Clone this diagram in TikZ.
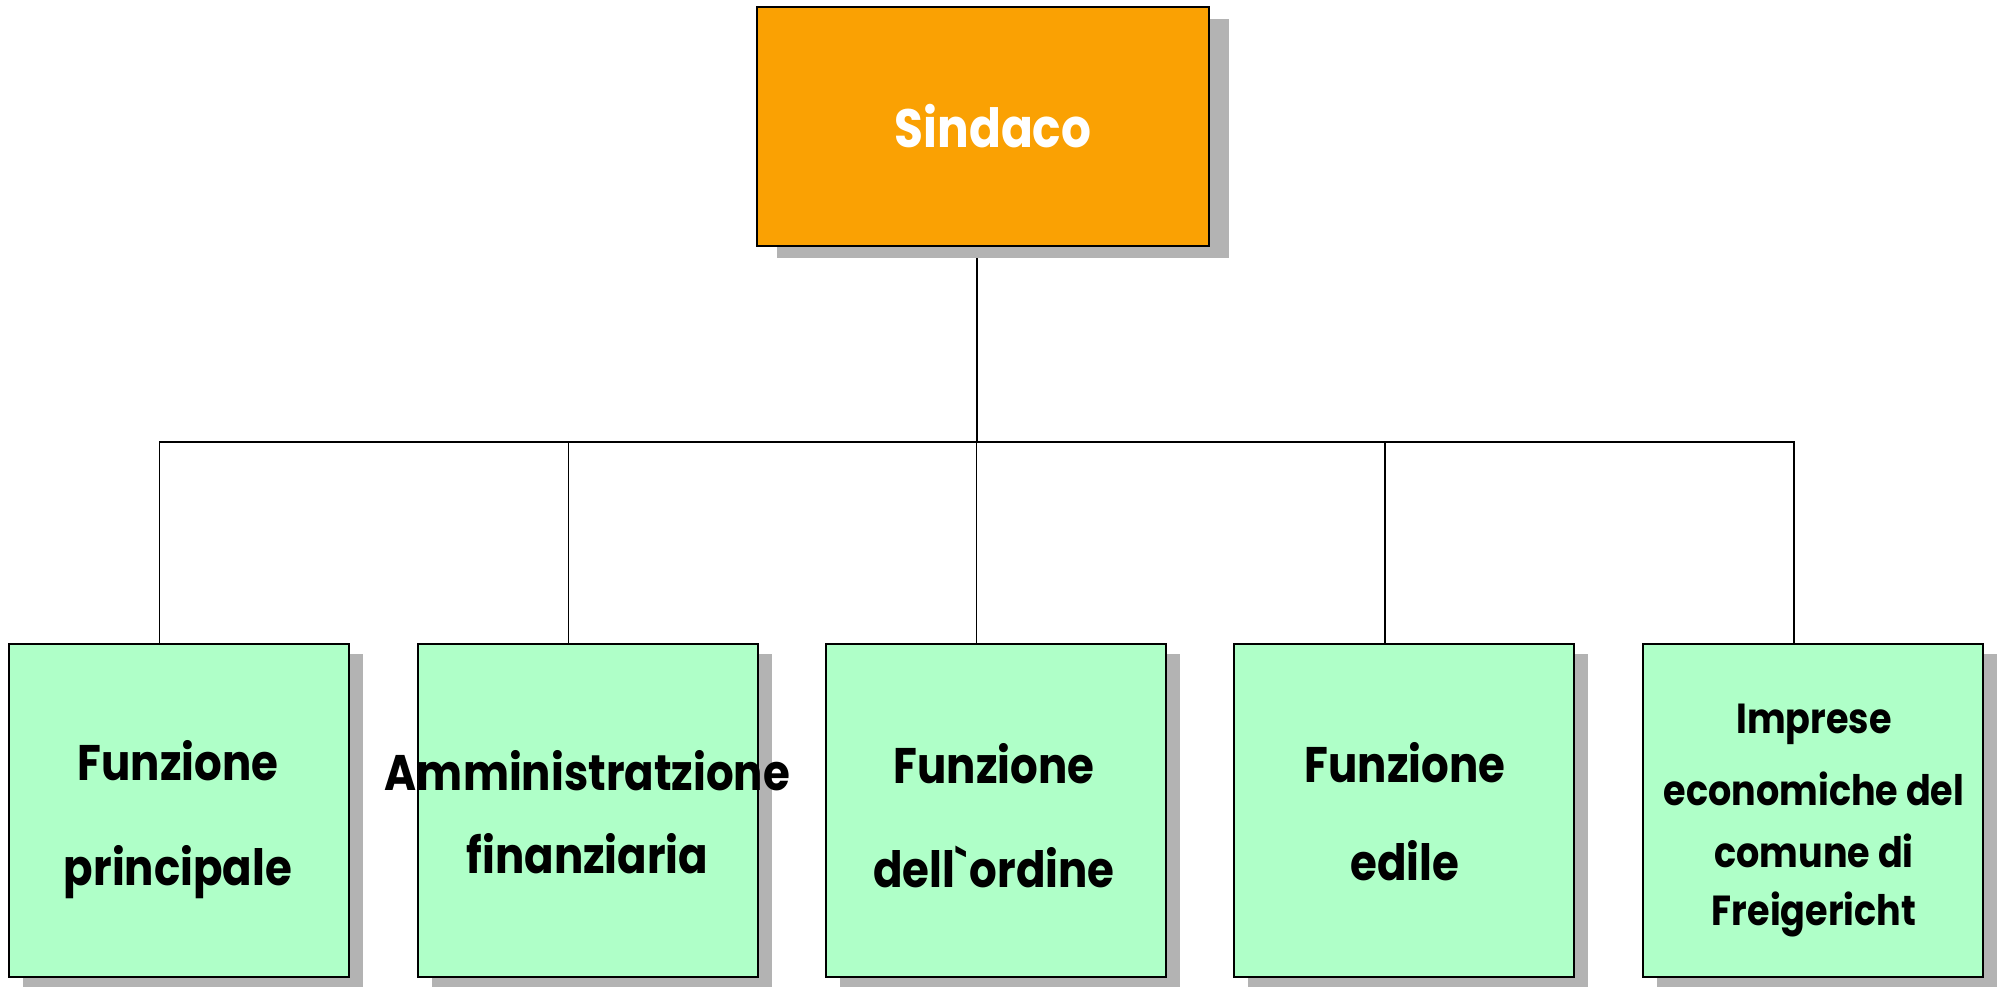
\documentclass[tikz,border=0pt]{standalone}
\usepackage{fontspec}
\setmainfont{Poppins}[FakeStretch=0.87]
\usetikzlibrary{shadows,backgrounds}
\definecolor{sindacoorange}{RGB}{250,161,3}
\definecolor{unitgreen}{RGB}{175,255,200}
\definecolor{shadowgray}{RGB}{179,179,179}

\begin{document}
\begin{tikzpicture}[x=0.5pt,y=-0.5pt,
  topbox/.style={draw,line width=1pt,fill=sindacoorange,minimum width=226pt,minimum height=119.5pt,inner sep=0pt,
    drop shadow={shadow xshift=10pt,shadow yshift=-6pt,fill=shadowgray,opacity=1}},
  unitbox/.style={draw,line width=1pt,fill=unitgreen,minimum width=170pt,minimum height=166.5pt,inner sep=0pt,
    drop shadow={shadow xshift=7pt,shadow yshift=-5pt,fill=shadowgray,opacity=1}},
  unittext/.style={anchor=base,align=center,inner sep=0pt,font=\bfseries\fontsize{25}{29}\selectfont},
  smalltext/.style={anchor=base,align=center,inner sep=0pt,font=\bfseries\fontsize{21}{29}\selectfont}]
\useasboundingbox (0,0) rectangle (1999,987);

%Sindaco
\node[topbox] (sindaco) at (983,126.5) {};
\node[unittext,text=white,font=\bfseries\fontsize{27}{29}\selectfont] (sindacotext) at (993,147) {Sindaco};

%Funzioni
\node[unitbox] (f1) at (178.5,810.5) {};
\node[unitbox] (f2) at (587.5,810.5) {};
\node[unitbox] (f3) at (995.5,810.5) {};
\node[unitbox] (f4) at (1404,810.5) {};
\node[unitbox] (f5) at (1813,810.5) {};

% Text Nodes
\node[unittext] (t1) at (178,885) {Funzione\\[23.5pt]principale};
\node[unittext] (t2) at (587.5,873) {Amministratzione\\[12.5pt]finanziaria};
\node[unittext] (t3) at (994,887) {Funzione\\[23pt]dell\textasciigrave ordine};
\node[unittext] (t4) at (1405,880) {Funzione\\[20pt]edile};
\node[smalltext] (t5) at (1814,925) {Imprese\\[7pt]economiche del\\[2pt]comune di\\Freigericht};

%Connectors
\begin{scope}[on background layer]
\coordinate (bus) at (977,442);
\draw[line width=0.9pt] ([xshift=-3pt]sindaco.south) -- (bus);
\foreach \f in {f1,f2,f3,f4,f5}
  \draw[line width=0.9pt] (bus) -| ([xshift=-9.5pt]\f.north);
\end{scope}

\end{tikzpicture}
\end{document}
